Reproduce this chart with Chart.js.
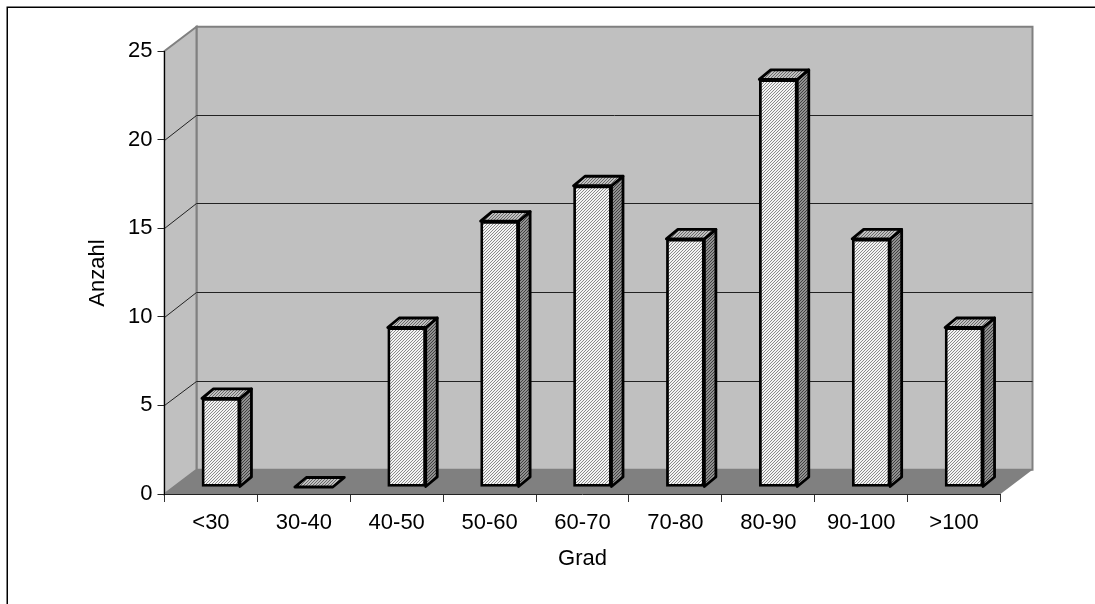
<!DOCTYPE html>
<html>
<head>
<meta charset="utf-8">
<style>
  html, body { margin: 0; padding: 0; background: #fff; }
  #wrap { width: 1095px; height: 604px; position: relative; }
</style>
<script src="https://cdn.jsdelivr.net/npm/chart.js@4"></script>
</head>
<body>
<div id="wrap"><canvas id="chart" width="1095" height="604"></canvas></div>
<script>
// Data
const categories = ['<30', '30-40', '40-50', '50-60', '60-70', '70-80', '80-90', '90-100', '>100'];
const anzahl     = [5, 0, 9, 15, 17, 14, 23, 14, 9];
const yTicks     = [0, 5, 10, 15, 20, 25];

// 3D look
const WALL_DX = 32, WALL_DY = 24.3;   // depth of the box
const BAR_DX  = 11.5, BAR_DY  = 9.5;  // depth of a bar
const SHIFT_X = 10, SHIFT_Y = -7;     // whole pixels, or the hatch goes blurry
const FONT = 'Liberation Sans', FONT_SIZE = 22;

function hatch(bg, fg) {
  const c = document.createElement('canvas');
  c.width = c.height = 3;
  const x = c.getContext('2d');
  x.fillStyle = bg;
  x.fillRect(0, 0, 3, 3);
  x.fillStyle = fg;
  for (let i = 0; i < 3; i++) x.fillRect(2 - i, i, 1, 1);
  return x.createPattern(c, 'repeat');
}

function poly(ctx, pts, fill, stroke, lw) {
  ctx.beginPath();
  pts.forEach((p, i) => i ? ctx.lineTo(p[0], p[1]) : ctx.moveTo(p[0], p[1]));
  ctx.closePath();
  if (fill) { ctx.fillStyle = fill; ctx.fill(); }
  if (stroke) { ctx.strokeStyle = stroke; ctx.lineWidth = lw; ctx.stroke(); }
}

const box3d = {
  id: 'box3d',
  beforeDraw(chart) {
    const ctx = chart.ctx, a = chart.chartArea, y = chart.scales.y;
    const l = a.left, r = a.right, t = a.top, b = a.bottom;
    ctx.save();
    // outer frame
    ctx.strokeStyle = '#000';
    ctx.lineWidth = 1.5;
    ctx.beginPath();
    ctx.moveTo(7.25, 604); ctx.lineTo(7.25, 7.25); ctx.lineTo(1095, 7.25);
    ctx.stroke();
    // walls and floor
    poly(ctx, [[l + WALL_DX, t - WALL_DY], [r + WALL_DX, t - WALL_DY], [r + WALL_DX, b - WALL_DY], [l + WALL_DX, b - WALL_DY]], '#c0c0c0', '#808080', 2);
    poly(ctx, [[l, t], [l + WALL_DX, t - WALL_DY], [l + WALL_DX, b - WALL_DY], [l, b]], '#c0c0c0', '#808080', 2);
    poly(ctx, [[l, b], [l + WALL_DX, b - WALL_DY], [r + WALL_DX, b - WALL_DY], [r, b]], '#808080');
    // gridlines, side wall and back wall
    ctx.strokeStyle = '#222';
    ctx.lineWidth = 1;
    yTicks.slice(1, -1).forEach(v => {
      const py = y.getPixelForValue(v);
      const back = Math.floor(py - WALL_DY) + 0.5;
      ctx.beginPath();
      ctx.moveTo(l, Math.round(py) + 0.5);
      ctx.lineTo(l + WALL_DX, back);
      ctx.lineTo(r + WALL_DX, back);
      ctx.stroke();
    });
    ctx.restore();
  },
  // side and top of each bar go behind the front face drawn by Chart.js
  beforeDatasetDraw(chart, args) {
    const ctx = chart.ctx;
    const meta = chart.getDatasetMeta(args.index);
    ctx.save();
    ctx.translate(SHIFT_X, SHIFT_Y);
    ctx.lineJoin = 'round';
    meta.data.forEach(bar => {
      const x0 = bar.x - bar.width / 2, x1 = bar.x + bar.width / 2;
      const yt = bar.y, yb = bar.base;
      if (yb - yt > 0) {
        poly(ctx, [[x1, yt], [x1 + BAR_DX, yt - BAR_DY], [x1 + BAR_DX, yb - BAR_DY], [x1, yb]], sidePattern, '#000', 2.8);
      }
      poly(ctx, [[x0, yt], [x0 + BAR_DX, yt - BAR_DY], [x1 + BAR_DX, yt - BAR_DY], [x1, yt]], topPattern, '#000', 2.8);
    });
  },
  afterDatasetDraw(chart) {
    chart.ctx.restore();
  }
};

const frontPattern = hatch('#f4f4f4', '#8a8a8a');
const sidePattern  = hatch('#909090', '#404040');
const topPattern   = hatch('#c0c0c0', '#686868');

new Chart(document.getElementById('chart'), {
  type: 'bar',
  data: {
    labels: categories,
    datasets: [{
      data: anzahl,
      backgroundColor: ctx => ctx.raw > 0 ? frontPattern : 'rgba(0,0,0,0)',
      borderColor: '#000',
      borderWidth: ctx => ctx.raw > 0 ? 2.8 : 0,
      borderSkipped: false,
      barThickness: 38,
      categoryPercentage: 1
    }]
  },
  options: {
    responsive: false,
    animation: false,
    events: [],
    layout: { padding: { left: 0, right: 94.5, top: 51, bottom: 0 } },
    plugins: { legend: { display: false }, tooltip: { enabled: false } },
    scales: {
      x: {
        afterFit: s => { s.height = 110; },
        grid: { drawOnChartArea: false, drawTicks: true, tickLength: 8, color: '#333', offset: true },
        border: { color: '#222', width: 1 },
        ticks: { color: '#000', padding: 8, font: { family: FONT, size: FONT_SIZE }, maxRotation: 0, autoSkip: false },
        title: { display: true, text: 'Grad', color: '#000', font: { family: FONT, size: FONT_SIZE }, padding: { top: 4, bottom: 32 } }
      },
      y: {
        min: 0,
        max: 25,
        afterBuildTicks: s => { s.ticks = yTicks.map(v => ({ value: v })); },
        afterFit: s => { s.width = 164.5; },
        grid: { drawOnChartArea: false, drawTicks: true, tickLength: 7, color: '#222' },
        border: { color: '#000', width: 1 },
        ticks: { color: '#000', padding: 5, font: { family: FONT, size: FONT_SIZE } },
        title: { display: false }
      }
    }
  },
  plugins: [box3d, {
    id: 'yTitle',
    afterDraw(chart) {
      const ctx = chart.ctx;
      ctx.save();
      ctx.translate(98, 273);
      ctx.rotate(-Math.PI / 2);
      ctx.font = FONT_SIZE + 'px "' + FONT + '"';
      ctx.fillStyle = '#000';
      ctx.textAlign = 'center';
      ctx.textBaseline = 'middle';
      ctx.fillText('Anzahl', 0, 0);
      ctx.restore();
    }
  }]
});
</script>
</body>
</html>
